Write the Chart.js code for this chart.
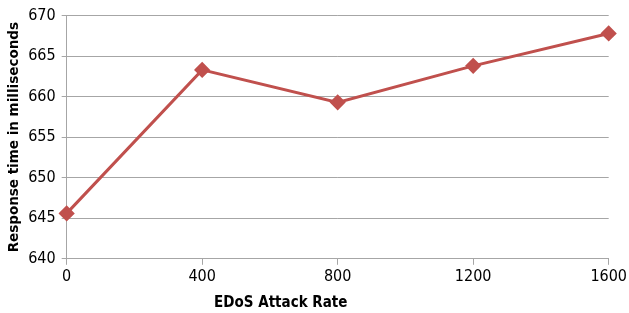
<!DOCTYPE html>
<html>
<head>
<meta charset="utf-8">
<script src="https://cdn.jsdelivr.net/npm/chart.js@4/dist/chart.umd.min.js"></script>
<style>
  html, body { margin: 0; padding: 0; background: #fff; }
  #wrap { width: 629px; height: 313px; }
</style>
</head>
<body>
<div id="wrap"><canvas id="chart"></canvas></div>
<script>
const attackRates = ['0', '400', '800', '1200', '1600'];
const responseTimes = [645.6, 663.3, 659.3, 663.8, 667.8];

const narrow = "'Liberation Sans Narrow', 'DejaVu Sans Condensed', sans-serif";
const tickFont = { family: narrow, size: 16 };
const titleFont = { family: "'DejaVu Sans', sans-serif", size: 13.5, weight: 'bold' };

// x axis title sits a little left of centre in the original
const xTitle = {
    id: 'xTitle',
    afterDraw(c) {
        const ctx = c.ctx, a = c.chartArea;
        ctx.save();
        ctx.font = 'bold 15px ' + narrow;
        ctx.fillStyle = '#000';
        ctx.textAlign = 'center';
        ctx.textBaseline = 'middle';
        ctx.fillText('EDoS Attack Rate', a.left + a.width * 0.395, 303);
        ctx.restore();
    }
};

let chart = new Chart(document.getElementById('chart'), {
    type: 'line',
    data: {
        labels: attackRates,
        datasets: [{
            label: 'Response time',
            data: responseTimes,
            borderColor: '#C0504D',
            backgroundColor: '#C0504D',
            borderWidth: 3,
            tension: 0,
            fill: false,
            pointStyle: 'rectRot',
            pointRadius: 6,
            pointHoverRadius: 6
        }]
    },
    options: {
        responsive: true,
        maintainAspectRatio: false,
        animation: false,
        layout: { padding: { top: 13, right: 8, left: 0, bottom: 25 } },
        plugins: {
            legend: { display: false },
            tooltip: { enabled: false }
        },
        scales: {
            x: {
                offset: false,
                grid: {
                    drawOnChartArea: false,
                    drawTicks: true,
                    tickLength: 6,
                    color: '#a6a6a6'
                },
                border: { color: '#a6a6a6' },
                ticks: { color: '#000', font: tickFont, padding: 2, maxRotation: 0 }
            },
            y: {
                min: 640,
                max: 670,
                ticks: { stepSize: 5, color: '#000', font: tickFont, padding: 6 },
                grid: { color: '#a6a6a6', tickLength: 5 },
                border: { color: '#a6a6a6' },
                title: {
                    display: true,
                    text: 'Response time in milliseconds',
                    color: '#000',
                    font: titleFont,
                    padding: { top: 6, bottom: 0 }
                }
            }
        }
    },
    plugins: [xTitle]
});
</script>
</body>
</html>
